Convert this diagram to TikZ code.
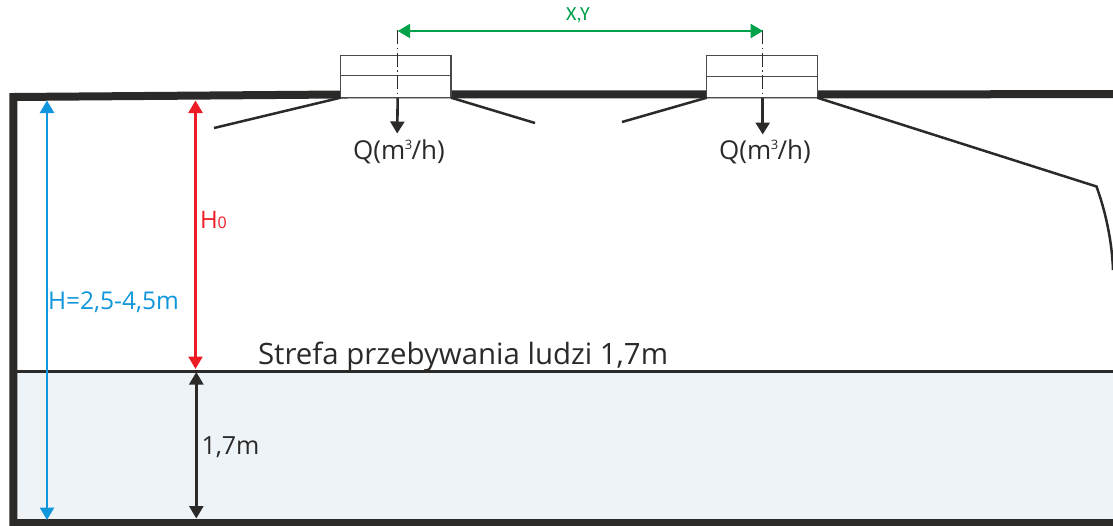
\documentclass[tikz,border=0pt]{standalone}
\usepackage{fontspec}
\setmainfont{Open Sans}
\newfontfamily\carl{Carlito}
\usetikzlibrary{arrows.meta}
\definecolor{ink}{HTML}{2B2A29}
\definecolor{boxline}{HTML}{4A4A4A}
\definecolor{zone}{HTML}{EEF3F8}
\definecolor{dimgreen}{HTML}{00A14B}
\definecolor{dimblue}{HTML}{0F96DC}
\definecolor{dimred}{HTML}{ED1C24}
\newcommand{\qlabel}{Q(m\kern-0.5pt\raisebox{10.5pt}{\fontsize{13}{13}\selectfont 3}\kern-0.5pt/h)}
\tikzset{
  wall/.style={draw=ink,line width=8pt,line join=miter},
  deflector/.style={draw=ink,line width=2.5pt},
  unitbox/.style={draw=boxline,line width=1.4pt,fill=white,minimum width=110.5pt,minimum height=42pt,inner sep=0pt,outer sep=0pt},
  axisline/.style={draw=ink,line width=0.9pt,dash pattern=on 14pt off 3.5pt on 1.5pt off 3.5pt},
  flow/.style={draw=ink,line width=2.6pt,-{Triangle[length=12pt,width=14pt]}},
  dimarrow/.style={line width=2.6pt,{Triangle[length=12.5pt,width=14pt]}-{Triangle[length=12.5pt,width=14pt]}},
  lbl/.style={inner sep=0pt,outer sep=0pt,text=ink}
}
\begin{document}
\begin{tikzpicture}[x=1pt,y=-1pt]
\useasboundingbox (0,0) rectangle (1113,525);
% zone
\fill[zone] (17,371) rectangle (1113,519);
\coordinate (zoneL) at (17,371);
\coordinate (zoneR) at (1113,371);
\draw[draw=ink,line width=3pt] (zoneL) -- (zoneR);
% walls
\coordinate (wallTL) at (13.3,97);
\coordinate (wallBL) at (13.3,523);
\coordinate (wallBR) at (1113,523);
\coordinate (roofA) at (341,94.5);
\coordinate (roofB) at (1113,94.2);
\draw[wall] (wallBR) -- (wallBL) -- (wallTL) -- (roofA) -- (roofB);
% units
\node[unitbox] (u1) at (395.8,76.7) {};
\node[unitbox] (u2) at (762,76.7) {};
\draw[boxline,line width=1.3pt] (u1.west |- 0,75.5) -- (u1.east |- 0,75.5);
\draw[boxline,line width=1.3pt] (u2.west |- 0,76.8) -- (u2.east |- 0,76.8);
% deflectors
\coordinate (d1) at (214,128);
\coordinate (d2) at (535,123);
\coordinate (d3) at (622,122);
\coordinate (d4) at (1096.5,186.5);
\coordinate (d5) at (1113,270);
\draw[deflector] (u1.south west) -- (d1);
\draw[deflector] (u1.south east) -- (d2);
\draw[deflector] (u2.south west) -- (d3);
\draw[deflector] (u2.south east) -- (d4) .. controls (1105,210) and (1112,240) .. (d5);
% axes
\coordinate (a1t) at (397.7,30);
\coordinate (a1b) at (397.7,98);
\coordinate (a2t) at (762.7,30);
\coordinate (a2b) at (762.7,98);
\coordinate (q1) at (397.2,133.5);
\coordinate (q2) at (762.7,134.5);
\draw[axisline] (a1t) -- (a1b);
\draw[axisline] (a2t) -- (a2b);
\draw[flow] (a1b) -- (q1);
\draw[flow] (a2b) -- (q2);
\draw[dimarrow,draw=dimgreen,fill=dimgreen] (397.7,31) coordinate (g1) -- (763,31) coordinate (g2);
\node[lbl,text=dimgreen,font=\carl\fontsize{20}{20}\selectfont] (xy) at (578,15) {X,Y};
\node[lbl,anchor=base,font=\fontsize{26}{26}\selectfont] (qa) at (399,159.5) {\qlabel};
\node[lbl,anchor=base,font=\fontsize{26}{26}\selectfont] (qb) at (765,159.5) {\qlabel};
% dimensions
\coordinate (bt) at (47,100.5);
\coordinate (bb) at (47,520);
\coordinate (rt) at (195.5,100.5);
\coordinate (rb) at (195.5,369);
\coordinate (kt) at (196.3,372);
\coordinate (kb) at (196.3,518.5);
\draw[dimarrow,draw=dimblue,fill=dimblue] (bt) -- (bb);
\draw[dimarrow,draw=dimred,fill=dimred] (rt) -- (rb);
\draw[dimarrow,draw=ink,fill=ink] (kt) -- (kb);
\node[lbl,anchor=base west,text=dimblue,font=\fontsize{24.5}{24.5}\selectfont] (hb) at (48,309) {H=2,5-4,5m};
\node[lbl,anchor=base west,text=dimred,font=\fontsize{24}{24}\selectfont] (h0) at (200,228) {H\fontsize{16}{16}\selectfont 0};
\node[lbl,anchor=base west,font=\fontsize{25}{25}\selectfont] (h17) at (201.5,454) {1,7m};
\node[lbl,anchor=base west,font=\fontsize{29.4}{29.4}\selectfont] (zt) at (258,364) {Strefa przebywania ludzi 1,7m};
\end{tikzpicture}
\end{document}
